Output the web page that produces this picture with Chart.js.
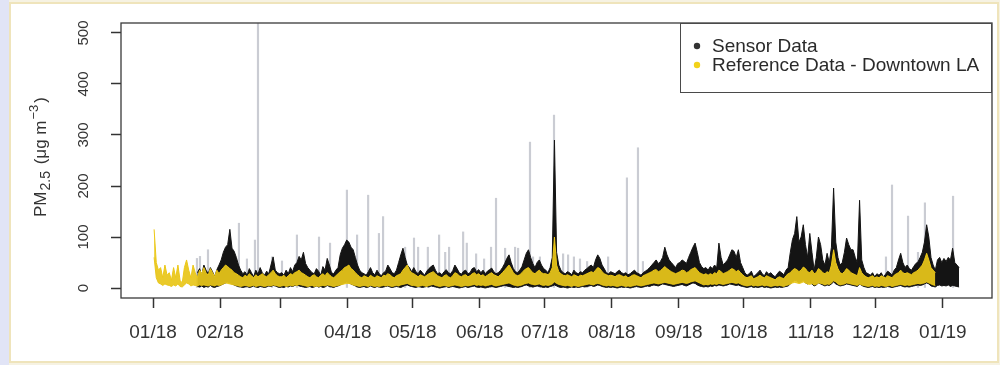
<!DOCTYPE html>
<html>
<head>
<meta charset="utf-8">
<script src="https://cdn.jsdelivr.net/npm/chart.js@4.4.1/dist/chart.umd.min.js"></script>
<style>
  html, body { margin: 0; padding: 0; width: 1000px; height: 365px; overflow: hidden; background: #f6f2e2; }
  #strip { position: absolute; left: 0; top: 0; width: 9px; height: 365px; background: #e1e4f6; }
  #frame { position: absolute; left: 9px; top: 2px; width: 986px; height: 357px; border: 2px solid #efe4bb; background: #fff; }
  #c { position: absolute; left: 0; top: 0; }
</style>
</head>
<body>
<div id="strip"></div>
<div id="frame"></div>
<canvas id="c" width="1000" height="365"></canvas>
<script>
// Days are counted from 2018-01-01 (day 0).
const monthStartDays = [0, 31, 59, 90, 120, 151, 181, 212, 243, 273, 304, 334, 365];
const monthLabels = ['01/18', '02/18', '', '04/18', '05/18', '06/18', '07/18', '08/18', '09/18', '10/18', '11/18', '12/18', '01/19'];
const yTicks = [0, 100, 200, 300, 400, 500];

// Low-cost sensor, daily low / high (µg m-3), from 2018-01-21 to 2019-01-08
const SENSOR_FIRST_DAY = 20;
const sensorHigh = [
  [30,38,25,45,35,28,40,32,22,36,45],
  [55,70,80,85,115,78,72,60,45,35,28,32,25,38,30,22,35,27,40,30,25,33,28,45,61,35,30,28],
  [30,25,35,28,40,32,45,50,62,55,70,48,40,35,30,28,38,33,25,42,35,58,45,30,28,35,40,65,78,85,94],
  [90,80,75,60,45,35,30,28,25,32,40,30,26,35,28,24,30,33,45,38,30,28,35,50,65,78,60,45,40,32],
  [40,32,28,35,30,25,33,38,42,45,35,28,30,26,32,36,30,28,34,45,38,30,27,33,35,28,30,38,40,32,36],
  [30,35,28,33,36,39,32,28,30,34,40,48,58,65,50,38,32,30,35,42,55,68,75,60,48,40,50,55,45,38],
  [35,30,40,60,290,70,45,35,30,28,32,30,26,35,30,28,32,30,35,38,42,45,40,55,65,58,45,38,30,28,32],
  [30,28,32,35,30,28,30,26,28,32,35,30,28,25,30,33,36,40,45,50,55,48,52,60,80,65,55,50,45,40,48],
  [50,55,52,48,60,70,80,88,70,50,42,38,40,35,42,38,45,40,88,60,45,50,55,65,75,72,60,75,50,40],
  [30,25,28,33,22,26,30,35,28,24,32,27,30,25,22,28,33,30,26,35,40,70,95,107,140,90,100,124,85,60,107],
  [70,35,60,100,85,55,45,68,50,80,196,90,60,45,50,70,98,85,75,75,60,50,172,55,40,30,28,25,30,22],
  [28,25,30,22,27,33,30,25,35,40,55,68,50,40,45,38,35,42,48,51,60,70,90,124,100,60,45,35,55,60,50],
  [58,52,60,55,78,50,45,40]
].flat();
const sensorLow = [
  [3,2,4,1,3,2,5,2,1,3,4],
  [6,8,10,12,10,8,6,4,3,2,1,2,3,1,2,4,2,1,3,2,1,2,4,3,5,4,2,1],
  [2,1,3,2,4,3,5,6,4,3,2,1,2,3,1,2,4,2,3,1,2,5,3,2,1,3,4,6,8,10,12],
  [10,8,6,4,2,1,2,3,1,2,4,2,1,3,2,1,2,3,4,2,1,2,3,2,1,3,5,6,4,3],
  [2,1,3,2,1,2,3,2,4,3,2,1,0,1,2,3,1,2,3,2,1,0,1,2,3,1,2,3,4,2,1],
  [2,1,0,1,2,3,2,1,2,3,4,5,4,3,2,1,2,1,2,3,5,6,4,3,2,3,4,3,2,1],
  [2,1,3,4,6,4,2,1,2,1,0,1,2,1,2,1,2,3,2,3,4,5,3,4,6,5,3,2,1,2,1],
  [2,1,0,1,2,1,2,1,0,1,2,3,2,1,2,3,4,3,5,6,5,4,6,8,7,6,5,4,3,4,5],
  [6,7,5,4,6,8,10,9,6,4,3,2,3,2,4,3,5,4,6,5,4,5,6,8,7,6,5,6,4,3],
  [2,1,2,3,1,2,1,2,3,1,2,1,0,1,2,1,2,1,2,3,4,8,12,15,14,10,12,15,10,8,10],
  [8,4,6,10,8,6,4,6,5,8,12,8,6,4,5,6,8,7,6,5,4,3,8,5,3,2,1,2,3,1],
  [2,1,2,1,2,3,2,1,2,3,4,5,3,2,3,2,3,4,5,6,5,6,8,10,8,4,3,2,5,6,4],
  [5,4,6,3,5,4,3,2]
].flat();

// Downtown LA reference monitor, daily low / high, from 2018-01-01 to 2018-12-28
const REFERENCE_FIRST_DAY = 0;
const referenceHigh = [
  [115,50,35,40,20,45,25,30,15,40,20,45,15,10,40,55,35,20,45,30,20,35,28,40,30,25,38,30,22,35,28],
  [35,40,45,42,38,35,30,28,25,22,20,25,22,28,24,20,26,22,25,28,24,22,26,30,35,28,24,22],
  [22,25,20,24,28,26,30,32,35,30,28,25,22,20,24,26,22,20,25,28,24,30,26,22,20,24,28,32,35,40,42],
  [45,38,35,30,26,22,20,24,22,20,25,22,20,24,22,20,25,24,28,26,22,20,24,26,28,35,40,45,35,30],
  [28,25,22,26,24,22,25,28,30,32,28,24,22,20,24,26,22,20,24,30,28,24,22,25,26,22,24,28,30,26,28],
  [24,26,22,25,28,30,26,24,22,26,30,35,40,45,38,30,26,24,26,30,35,38,40,35,30,28,32,35,30,28],
  [28,26,30,40,100,45,32,28,25,24,26,24,22,26,24,22,25,24,26,28,30,32,30,35,40,38,32,28,26,24,25],
  [24,22,25,26,24,22,24,20,22,25,26,24,22,20,24,26,28,30,32,35,36,32,34,38,42,38,35,32,30,28,30],
  [32,35,34,30,32,36,38,40,35,30,28,26,28,25,28,26,30,28,35,32,28,30,32,35,38,36,32,35,30,26],
  [22,20,22,24,18,20,22,25,22,20,24,22,20,18,16,20,22,20,18,24,28,30,35,38,36,32,35,41,38,32,30],
  [35,28,30,38,35,30,28,32,30,45,75,50,38,30,28,32,38,35,30,28,26,24,40,30,25,22,20,22,24,20],
  [22,20,24,22,20,24,22,20,25,28,30,35,30,28,30,28,26,30,32,35,40,45,55,68,55,40,35,30]
].flat();
const referenceLow = [
  [60,20,10,8,5,8,6,5,3,6,4,8,3,2,6,10,8,4,6,5,4,6,5,6,5,4,6,5,4,6,5],
  [6,8,10,9,8,7,6,5,4,3,4,5,4,3,4,5,3,4,5,4,3,4,5,4,6,5,4,3],
  [4,5,3,4,5,4,6,5,7,6,5,4,3,4,5,3,4,3,4,5,4,6,5,4,3,4,5,6,7,8,9],
  [9,8,6,5,4,3,4,5,4,3,5,4,3,4,3,4,5,4,5,4,3,4,5,4,6,7,8,9,7,5],
  [5,4,3,4,5,4,3,5,6,7,5,4,3,4,5,4,3,4,5,6,5,4,3,4,5,4,5,6,7,5,6],
  [5,6,4,5,6,7,5,4,5,6,7,8,9,10,8,6,5,4,5,6,8,9,10,8,7,6,7,8,6,5],
  [6,5,6,8,12,9,7,6,5,4,5,4,3,5,4,3,4,5,6,7,8,7,6,8,9,8,6,5,4,5,4],
  [5,4,3,4,5,4,3,4,3,4,5,6,5,4,5,6,7,8,9,10,9,8,9,10,11,10,9,8,7,8,9],
  [10,11,10,9,10,12,13,14,12,10,8,6,7,6,8,7,8,7,9,8,7,8,9,10,11,10,9,10,8,6],
  [5,4,5,6,4,5,4,5,6,4,5,4,3,4,5,4,5,4,3,5,6,8,10,11,10,9,10,12,10,8,7],
  [9,6,7,10,9,8,6,8,7,10,14,12,8,6,7,8,10,9,8,7,6,5,8,6,5,4,3,4,5,3],
  [4,3,5,4,3,4,5,3,4,5,6,7,6,5,6,5,6,7,8,9,8,9,10,12,10,8,6,5]
].flat();

// Isolated hourly sensor readings shown as thin grey spikes
const spikeDays = [20.3,21.7,25.4,39.7,43.4,47.1,48.5,55,59.6,66.5,76.7,81.8,89.6,94.3,99.4,104.4,106.3,116.5,120.6,122.5,
  127,132.2,135,136.8,143.3,145,149.3,153,156.2,158.5,162.7,167.3,168.7,174.2,175.6,178.8,185.3,189.5,191.8,194.5,
  197.3,200.6,210.3,219,224.1,226.4,338.7,341.5,348.9,353.5,356.7,369.7];
const spikeValues = [58,62,75,127,57,94,530,61,53,104,100,88,192,104,182,107,140,80,98,80,
  80,104,70,80,110,88,67,57,80,176,78,80,78,286,61,61,339,67,65,61,
  57,52,61,216,275,52,61,202,141,70,167,180];

const legendItems = [
  { label: 'Sensor Data', color: '#333333' },
  { label: 'Reference Data - Downtown LA', color: '#f2d21a' }
];

// one point per day, placed at mid-day
function daily(firstDay, values) {
  return values.map((v, i) => ({ x: firstDay + i + 0.5, y: v }));
}

const FONT = "'Liberation Sans', Arial, sans-serif";

const framePlugin = {
  id: 'rframe',
  afterDraw(chart) {
    const { ctx, chartArea: a, scales } = chart;
    ctx.save();
    // plot box
    ctx.strokeStyle = '#3a3a3a';
    ctx.lineWidth = 1.3;
    ctx.strokeRect(a.left, a.top, a.right - a.left, a.bottom - a.top);

    // rotated y tick labels
    ctx.fillStyle = '#333';
    ctx.font = '15px ' + FONT;
    ctx.textAlign = 'center';
    ctx.textBaseline = 'alphabetic';
    yTicks.forEach(v => {
      const py = scales.y.getPixelForValue(v);
      ctx.save();
      ctx.translate(88, py);
      ctx.rotate(-Math.PI / 2);
      ctx.fillText(String(v), 0, 0);
      ctx.restore();
    });

    // y axis title: PM2.5 (μg m-3)
    const parts = [
      { t: 'PM', s: 17, dy: 0, gap: 0 },
      { t: '2.5', s: 14, dy: 4, gap: 1 },
      { t: ' (\u03bcg m', s: 17, dy: 0, gap: 2 },
      { t: '\u22123', s: 13, dy: -8, gap: 1 },
      { t: ')', s: 17, dy: 0, gap: 2 }
    ];
    let total = 0;
    parts.forEach(p => { ctx.font = p.s + 'px ' + FONT; p.w = ctx.measureText(p.t).width; total += p.w + p.gap; });
    ctx.save();
    ctx.translate(46, 157);
    ctx.rotate(-Math.PI / 2);
    ctx.textAlign = 'left';
    let cx = -total / 2;
    parts.forEach(p => {
      cx += p.gap;
      ctx.font = p.s + 'px ' + FONT;
      ctx.fillText(p.t, cx, p.dy);
      cx += p.w;
    });
    ctx.restore();

    // legend box in the top-right corner of the plot
    const bx = 680, by = a.top, bw = a.right - 680, bh = 70;
    ctx.fillStyle = '#fff';
    ctx.fillRect(bx, by, bw, bh);
    ctx.strokeStyle = '#4a4a4a';
    ctx.lineWidth = 1;
    ctx.strokeRect(bx + 0.5, by + 0.5, bw - 1, bh - 1);
    ctx.font = '19px ' + FONT;
    ctx.textBaseline = 'middle';
    ctx.textAlign = 'left';
    legendItems.forEach((it, i) => {
      const ly = by + 23 + i * 19;
      ctx.fillStyle = it.color;
      ctx.beginPath();
      ctx.arc(697, ly, 3.2, 0, Math.PI * 2);
      ctx.fill();
      ctx.fillStyle = '#2a2a2a';
      ctx.fillText(it.label, 712, ly + 1);
    });
    ctx.restore();
  }
};

new Chart(document.getElementById('c'), {
  type: 'line',
  data: {
    datasets: [
      {
        label: 'Reference Data - Downtown LA',
        data: daily(REFERENCE_FIRST_DAY, referenceHigh),
        borderColor: 'rgba(236,200,22,1)',
        backgroundColor: 'rgba(232,198,26,0.93)',
        borderWidth: 1,
        pointRadius: 0,
        fill: '+1',
        order: 0
      },
      {
        label: 'Reference low',
        data: daily(REFERENCE_FIRST_DAY, referenceLow),
        borderColor: 'rgba(228,192,10,0.9)',
        borderWidth: 1,
        pointRadius: 0,
        fill: false,
        order: 0
      },
      {
        label: 'Sensor Data',
        data: daily(SENSOR_FIRST_DAY, sensorHigh),
        borderColor: '#141414',
        backgroundColor: '#141414',
        borderWidth: 1,
        pointRadius: 0,
        fill: '+1',
        order: 1
      },
      {
        label: 'Sensor low',
        data: daily(SENSOR_FIRST_DAY, sensorLow),
        borderColor: '#141414',
        borderWidth: 1,
        pointRadius: 0,
        fill: false,
        order: 1
      },
      {
        type: 'bar',
        label: 'Sensor spikes',
        data: spikeDays.map((d, i) => ({ x: d, y: spikeValues[i] })),
        backgroundColor: 'rgba(180,182,192,0.7)',
        barThickness: 1.5,
        order: 2
      }
    ]
  },
  options: {
    responsive: false,
    animation: false,
    devicePixelRatio: 1,
    layout: { padding: { left: 0, right: 8, top: 23, bottom: 0 } },
    plugins: { legend: { display: false }, tooltip: { enabled: false } },
    elements: { line: { tension: 0 } },
    scales: {
      x: {
        type: 'linear',
        min: -14.8,
        max: 387.7,
        offset: false,
        afterBuildTicks: s => { s.ticks = monthStartDays.map(v => ({ value: v })); },
        afterFit: s => { s.height = 67; },
        ticks: {
          autoSkip: false, maxRotation: 0, minRotation: 0, padding: 13,
          color: '#333', font: { family: FONT, size: 19 },
          callback: (v, i) => monthLabels[i]
        },
        grid: { offset: false, drawOnChartArea: false, drawTicks: true, tickLength: 10, tickColor: '#333', tickWidth: 1.5 },
        border: { display: false }
      },
      y: {
        min: -19.6,
        max: 519.6,
        afterBuildTicks: s => { s.ticks = yTicks.map(v => ({ value: v })); },
        afterFit: s => { s.width = 121; },
        ticks: { display: false },
        grid: { drawOnChartArea: false, drawTicks: true, tickLength: 10, tickColor: '#333', tickWidth: 1.5 },
        border: { display: false }
      }
    }
  },
  plugins: [framePlugin]
});
</script>
</body>
</html>
